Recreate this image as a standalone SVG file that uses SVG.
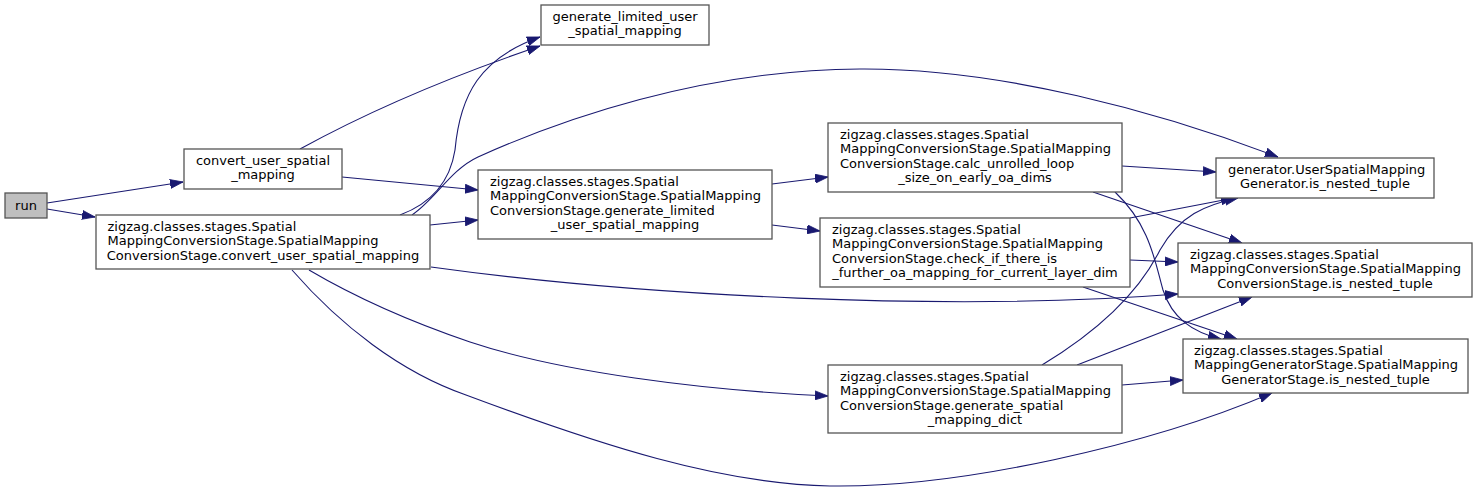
<svg xmlns="http://www.w3.org/2000/svg" width="1477" height="491" viewBox="0 0 1477 491">
<style>
.n rect{fill:#ffffff;stroke:#555555;stroke-width:1.3}
.root rect{fill:#bfbfbf}
text{font-family:"DejaVu Sans","Liberation Sans",sans-serif;font-size:13px;fill:#000000}
.c{text-anchor:middle}
.e path{fill:none;stroke:#191970;stroke-width:1.1;marker-end:url(#ah)}
</style>
<defs>
<marker id="ah" markerUnits="userSpaceOnUse" markerWidth="14" markerHeight="10" viewBox="0 0 14 10" refX="13" refY="5" orient="auto">
<path d="M0,0.5 L13,5 L0,9.5 z" fill="#191970" stroke="#191970" stroke-width="0.8"/>
</marker>
</defs>
<rect x="0" y="0" width="1477" height="491" fill="#ffffff"/>
<g class="e" id="edges">
<path d="M47,203 L183,182"/>
<path d="M47,209 L95,217"/>
<path d="M300,149 C360,116 440,80 540,46"/>
<path d="M400,215 C432,203 450,182 455,150 C460,95 480,58 540,37"/>
<path d="M412,215 C435,200 450,170 478,157 C560,120 700,70 860,69 C1000,68 1160,112 1278,157"/>
<path d="M342,177 L478,190"/>
<path d="M430,225 L478,220"/>
<path d="M772,184 L828,177"/>
<path d="M772,225 L820,231"/>
<path d="M1122,166 L1216,172"/>
<path d="M1093,192 L1242,243"/>
<path d="M1115,192 C1150,225 1155,262 1163,290 C1172,318 1192,332 1221,339"/>
<path d="M1130,218 L1234,198"/>
<path d="M1130,260 L1178,262"/>
<path d="M1083,287 L1237,339"/>
<path d="M431,267 C640,296 950,312 1178,294"/>
<path d="M309,270 C360,300 420,325 470,342 C560,372 700,390 828,396"/>
<path d="M292,270 C340,325 400,372 466,395 C600,445 720,484 830,486 C960,488 1150,445 1272,393"/>
<path d="M1042,365 C1100,330 1140,290 1160,250 C1180,215 1205,205 1238,198"/>
<path d="M1077,365 L1252,297"/>
<path d="M1122,385 L1183,380"/>
</g>
<g class="n root" id="node_run">
<rect x="5" y="193" width="42" height="25"/>
<text class="c" x="26" y="209.5">run</text>
</g>
<g class="n" id="node_convert_user">
<rect x="184" y="149" width="158" height="40"/>
<text class="c" x="263" y="164.5">convert_user_spatial</text>
<text class="c" x="263" y="179">_mapping</text>
</g>
<g class="n" id="node_conv_convert">
<rect x="96" y="215" width="334" height="54"/>
<text x="107.5" y="230.5">zigzag.classes.stages.Spatial</text>
<text x="107.5" y="245">MappingConversionStage.SpatialMapping</text>
<text class="c" x="263" y="259.7">ConversionStage.convert_user_spatial_mapping</text>
</g>
<g class="n" id="node_gen_limited">
<rect x="541" y="5" width="168" height="40"/>
<text class="c" x="625" y="20.5">generate_limited_user</text>
<text class="c" x="625" y="35">_spatial_mapping</text>
</g>
<g class="n" id="node_conv_gen_limited">
<rect x="478" y="170" width="294" height="69"/>
<text x="490" y="185.5">zigzag.classes.stages.Spatial</text>
<text x="490" y="200">MappingConversionStage.SpatialMapping</text>
<text x="490" y="214.7">ConversionStage.generate_limited</text>
<text class="c" x="625" y="229.3">_user_spatial_mapping</text>
</g>
<g class="n" id="node_calc">
<rect x="828" y="123" width="294" height="69"/>
<text x="840" y="138.5">zigzag.classes.stages.Spatial</text>
<text x="840" y="153">MappingConversionStage.SpatialMapping</text>
<text x="840" y="167.7">ConversionStage.calc_unrolled_loop</text>
<text class="c" x="975" y="182.3">_size_on_early_oa_dims</text>
</g>
<g class="n" id="node_check_if">
<rect x="820" y="218" width="310" height="69"/>
<text x="832" y="233.5">zigzag.classes.stages.Spatial</text>
<text x="832" y="248">MappingConversionStage.SpatialMapping</text>
<text x="832" y="262.7">ConversionStage.check_if_there_is</text>
<text class="c" x="975" y="277.3">_further_oa_mapping_for_current_layer_dim</text>
</g>
<g class="n" id="node_gen_spatial">
<rect x="828" y="365" width="294" height="68"/>
<text x="840" y="380.5">zigzag.classes.stages.Spatial</text>
<text x="840" y="395">MappingConversionStage.SpatialMapping</text>
<text x="840" y="409.7">ConversionStage.generate_spatial</text>
<text class="c" x="975" y="424.3">_mapping_dict</text>
</g>
<g class="n" id="node_user_generator">
<rect x="1216" y="158" width="218" height="40"/>
<text x="1228" y="173.5">generator.UserSpatialMapping</text>
<text class="c" x="1325" y="188">Generator.is_nested_tuple</text>
</g>
<g class="n" id="node_conv_is_nested">
<rect x="1178" y="243" width="294" height="54"/>
<text x="1190" y="258.5">zigzag.classes.stages.Spatial</text>
<text x="1190" y="273">MappingConversionStage.SpatialMapping</text>
<text class="c" x="1325" y="287.7">ConversionStage.is_nested_tuple</text>
</g>
<g class="n" id="node_gen_is_nested">
<rect x="1183" y="339" width="285" height="54"/>
<text x="1194" y="354.5">zigzag.classes.stages.Spatial</text>
<text x="1194" y="369">MappingGeneratorStage.SpatialMapping</text>
<text class="c" x="1325.5" y="383.7">GeneratorStage.is_nested_tuple</text>
</g>
</svg>
